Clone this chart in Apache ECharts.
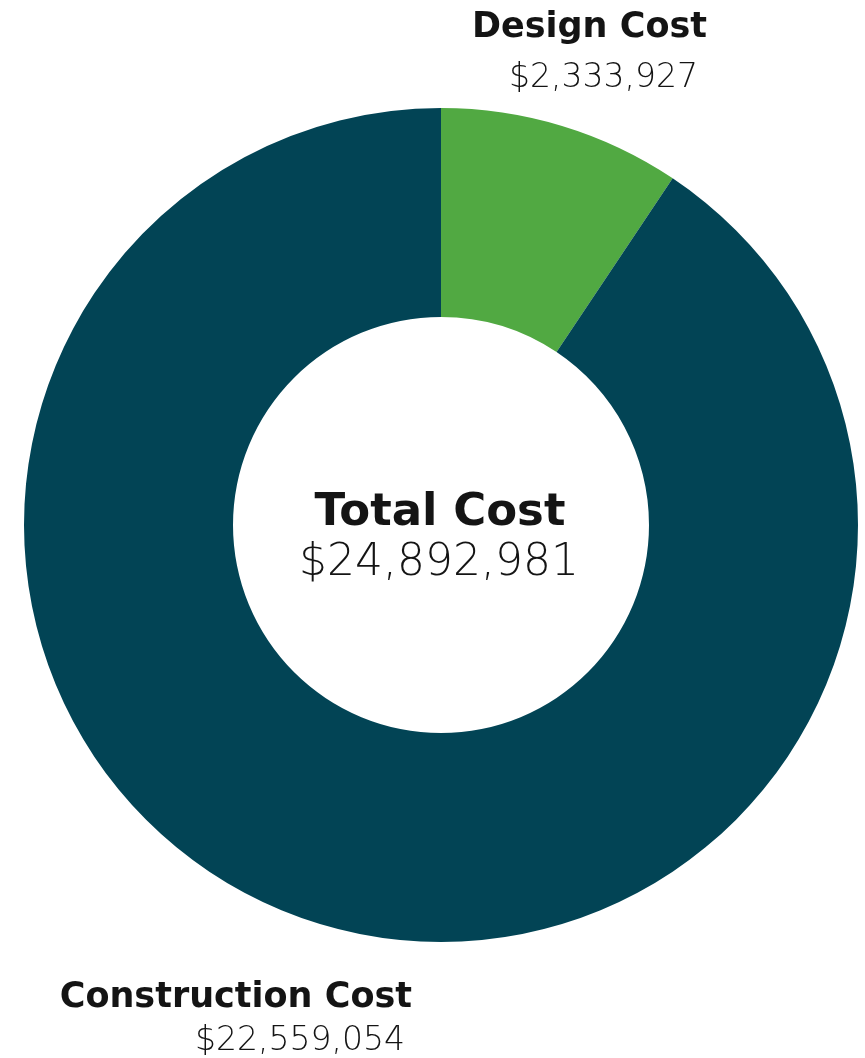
<!DOCTYPE html>
<html>
<head>
<meta charset="utf-8">
<style>
  html, body { margin: 0; padding: 0; background: #ffffff; }
  #chart { width: 865px; height: 1058px; }
</style>
<script src="https://cdn.jsdelivr.net/npm/echarts@6/dist/echarts.min.js"></script>
</head>
<body>
<div id="chart"></div>
<script>
// Cost breakdown
const categories = ['Design Cost', 'Construction Cost'];
const costs = [2333927, 22559054];
const sliceColors = ['#51a942', '#024455'];
const centerTitle = 'Total Cost';

const total = costs.reduce((a, b) => a + b, 0);
const money = v => '$' + v.toLocaleString('en-US');

const FONT = '"DejaVu Sans", "Open Sans", sans-serif';
const INK = '#141414';

function caption(text, x, y, font, align) {
  return {
    type: 'text', z: 10,
    style: { text: text, x: x, y: y, font: font, fill: INK, textAlign: align, textVerticalAlign: 'middle' }
  };
}

const chart = echarts.init(document.getElementById('chart'), null, { renderer: 'canvas' });

chart.setOption({
  backgroundColor: '#ffffff',
  animation: false,
  series: [{
    type: 'pie',
    center: [441, 525],
    radius: [208, 417],
    startAngle: 90,
    clockwise: true,
    label: { show: false },
    labelLine: { show: false },
    emphasis: { disabled: true },
    itemStyle: { borderWidth: 0 },
    data: categories.map((name, i) => ({
      name: name,
      value: costs[i],
      itemStyle: { color: sliceColors[i] }
    }))
  }],
  graphic: [
    // centre caption
    caption(centerTitle, 440, 513, 'bold 45px ' + FONT, 'center'),
    caption(money(total), 439, 564, '200 44px ' + FONT, 'center'),
    // design slice caption
    caption(categories[0], 707, 28, 'bold 35px ' + FONT, 'right'),
    caption(money(costs[0]), 698, 78, '200 33px ' + FONT, 'right'),
    // construction slice caption
    caption(categories[1], 412, 998, 'bold 35px ' + FONT, 'right'),
    caption(money(costs[1]), 405, 1041, '200 33px ' + FONT, 'right')
  ]
});
</script>
</body>
</html>
